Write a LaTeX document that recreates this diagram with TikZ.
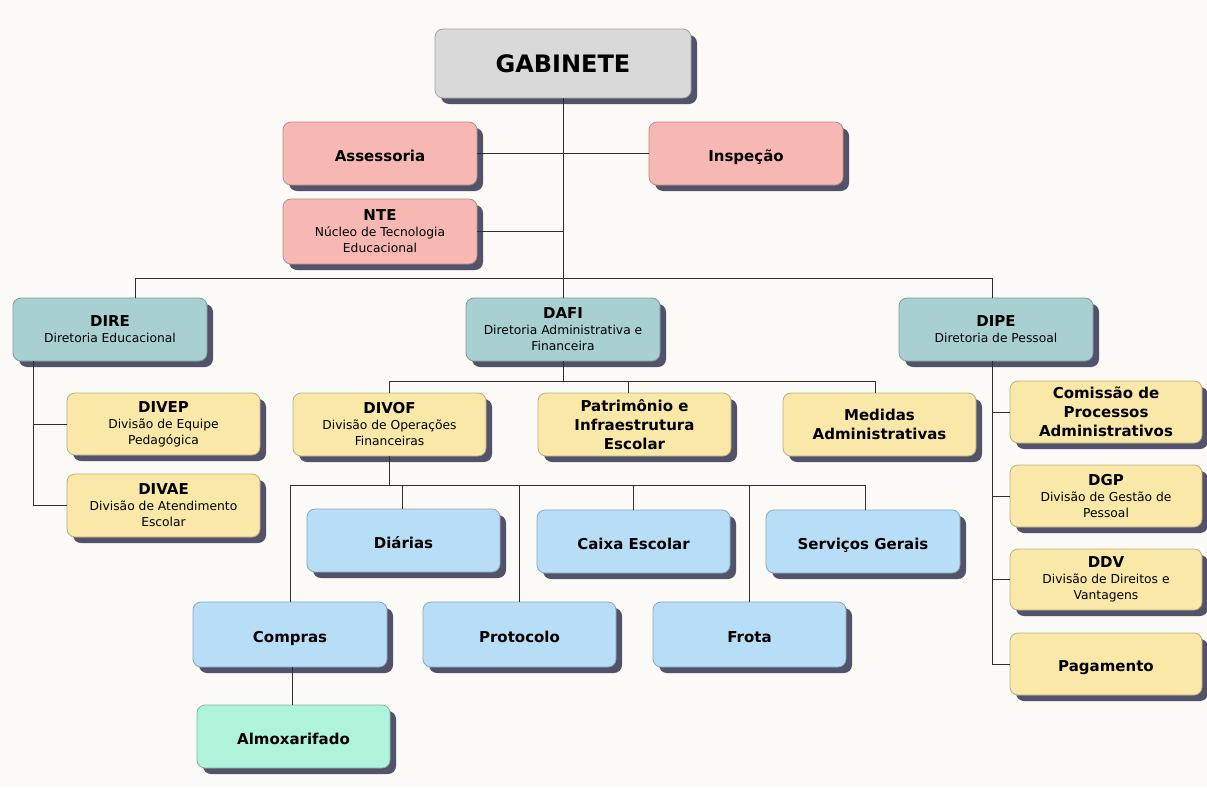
\documentclass[tikz,border=0pt]{standalone}
\usepackage{fontspec}
\setmainfont{DejaVu Sans}
\usetikzlibrary{shadows}
\definecolor{bgc}{HTML}{FCFAF6}
\definecolor{grayc}{HTML}{D9D9D9}
\definecolor{pinkc}{HTML}{F7B8B3}
\definecolor{tealc}{HTML}{A8D0D0}
\definecolor{yelc}{HTML}{FAE8A8}
\definecolor{bluec}{HTML}{B8DEF7}
\definecolor{mintc}{HTML}{AFF3DB}
\definecolor{shadowc}{HTML}{52526A}
\definecolor{linec}{HTML}{2E2E2E}
\tikzset{
  orgbox/.style={rounded corners=8pt, draw=#1!75!black, line width=0.8pt, fill=#1,
    minimum width=194pt, minimum height=63pt, inner sep=0pt, align=center,
    font=\fontsize{12.3}{16}\selectfont,
    drop shadow={shadow xshift=6pt, shadow yshift=-6pt, fill=shadowc, opacity=1}},
  boldtxt/.style={font=\fontsize{15}{19}\selectfont\bfseries},
  oneline/.style={boldtxt, text height=15pt, text depth=0pt},
  conn/.style={draw=linec, line width=1pt},
}
\newcommand{\ttl}[1]{{\fontsize{15}{17}\selectfont\bfseries #1}}
\begin{document}
\begin{tikzpicture}[x=1pt,y=-1pt]
\fill[bgc] (0,0) rectangle (1207,787);
\useasboundingbox (0,0) rectangle (1207,787);

% nodes
\node[orgbox=grayc, minimum width=256pt, minimum height=69pt, font=\fontsize{24}{28}\selectfont\bfseries] (gab) at (563,63.5) {GABINETE};
\node[orgbox=pinkc, oneline] (ass) at (380,153.5) {Assessoria};
\node[orgbox=pinkc, oneline] (insp) at (746,153.5) {Inspeção};
\node[orgbox=pinkc, minimum height=65pt] (nte) at (380,231.5) {\ttl{NTE}\\Núcleo de Tecnologia\\Educacional};

\node[orgbox=tealc] (dire) at (110,329.5) {\ttl{DIRE}\\Diretoria Educacional};
\node[orgbox=tealc] (dafi) at (563,329.5) {\ttl{DAFI}\\Diretoria Administrativa e\\Financeira};
\node[orgbox=tealc] (dipe) at (996,329.5) {\ttl{DIPE}\\Diretoria de Pessoal};

\node[orgbox=yelc, minimum width=193pt, minimum height=62pt] (divep) at (163.5,424) {\ttl{DIVEP}\\Divisão de Equipe\\Pedagógica};
\node[orgbox=yelc, minimum width=193pt] (divae) at (163.5,505.5) {\ttl{DIVAE}\\Divisão de Atendimento\\Escolar};

\node[orgbox=yelc, minimum width=193pt] (divof) at (389.5,424.5) {\ttl{DIVOF}\\Divisão de Operações\\Financeiras};
\node[orgbox=yelc, minimum width=193pt, boldtxt] (patr) at (634.5,424.5) {Patrimônio e\\Infraestrutura\\Escolar};
\node[orgbox=yelc, minimum width=193pt, boldtxt] (med) at (879.5,424.5) {Medidas\\Administrativas};

\node[orgbox=bluec, minimum width=193pt, oneline] (diar) at (403.5,540.5) {Diárias};
\node[orgbox=bluec, minimum width=193pt, oneline] (caixa) at (633.5,541.5) {Caixa Escolar};
\node[orgbox=bluec, oneline] (serv) at (863,541.5) {Serviços Gerais};
\node[orgbox=bluec, minimum height=65pt, oneline] (compras) at (290,634.5) {Compras};
\node[orgbox=bluec, minimum width=193pt, minimum height=65pt, oneline] (proto) at (519.5,634.5) {Protocolo};
\node[orgbox=bluec, minimum width=193pt, minimum height=65pt, oneline] (frota) at (749.5,634.5) {Frota};
\node[orgbox=mintc, minimum width=193pt, oneline] (almox) at (293.5,736.5) {Almoxarifado};

\node[orgbox=yelc, minimum width=192pt, minimum height=62pt, boldtxt] (com) at (1106,412) {Comissão de\\Processos\\Administrativos};
\node[orgbox=yelc, minimum width=192pt, minimum height=62pt] (dgp) at (1106,496) {\ttl{DGP}\\Divisão de Gestão de\\Pessoal};
\node[orgbox=yelc, minimum width=192pt, minimum height=61pt] (ddv) at (1106,579.5) {\ttl{DDV}\\Divisão de Direitos e\\Vantagens};
\node[orgbox=yelc, minimum width=192pt, minimum height=62pt, oneline] (pag) at (1106,664) {Pagamento};

% connector helper coordinates
\coordinate (busL) at (135,278);
\coordinate (busR) at (992,278);
\coordinate (direT) at (33,361);
\coordinate (dafiL) at (389,381);
\coordinate (dafiP) at (628,381);
\coordinate (dafiR) at (875,381);
\coordinate (ofL) at (290,485);
\coordinate (ofD) at (402,485);
\coordinate (ofR) at (865,485);
\coordinate (almT) at (292,667);

% connectors
\draw[conn] (gab.south) -- (dafi.north);
\draw[conn] (ass.east) -- (insp.west);
\draw[conn] (nte.east) -- (nte.east -| gab.south);
\draw[conn] (busL |- dire.north) -- (busL) -- (busR) -- (busR |- dipe.north);

\draw[conn] (direT |- dire.south) -- (direT |- divae.west) -- (divae.west);
\draw[conn] (direT |- divep.west) -- (divep.west);

\draw[conn] (dafi.south) -- (dafi.south |- dafiL);
\draw[conn] (dafiL |- divof.north) -- (dafiL) -- (dafiR) -- (dafiR |- med.north);
\draw[conn] (dafiP) -- (dafiP |- patr.north);

\draw[conn] (divof.south) -- (divof.south |- ofL);
\draw[conn] (ofL |- compras.north) -- (ofL) -- (ofR) -- (ofR |- serv.north);
\draw[conn] (ofD) -- (ofD |- diar.north);
\draw[conn] (proto.north) -- (proto.north |- ofL);
\draw[conn] (caixa.north) -- (caixa.north |- ofL);
\draw[conn] (frota.north) -- (frota.north |- ofL);
\draw[conn] (almT) -- (almT |- almox.north);

\draw[conn] (busR |- dipe.south) -- (busR |- pag.west) -- (pag.west);
\draw[conn] (busR |- com.west) -- (com.west);
\draw[conn] (busR |- dgp.west) -- (dgp.west);
\draw[conn] (busR |- ddv.west) -- (ddv.west);
\end{tikzpicture}
\end{document}
